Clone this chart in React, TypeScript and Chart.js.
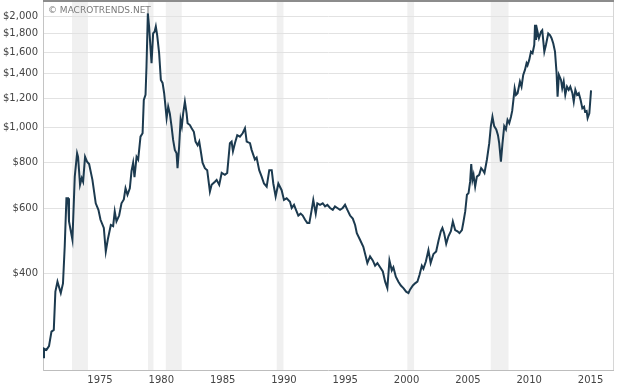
import React, { useEffect, useRef } from 'react';
import { Chart, registerables } from 'chart.js';

Chart.register(...registerables);

const years = [
  1971.39, 1971.47, 1971.67, 1971.88, 1972.08, 1972.27, 1972.4, 1972.57, 1972.84, 1973.02,
  1973.16, 1973.3, 1973.43, 1973.51, 1973.79, 1973.98, 1974.17, 1974.25, 1974.41, 1974.55,
  1974.66, 1974.82, 1974.98, 1975.15, 1975.42, 1975.69, 1975.91, 1976.08, 1976.35, 1976.51,
  1976.67, 1976.92, 1977.11, 1977.24, 1977.38, 1977.6, 1977.79, 1977.98, 1978.12, 1978.28,
  1978.47, 1978.61, 1978.74, 1978.85, 1979.02, 1979.15, 1979.34, 1979.51, 1979.61, 1979.75,
  1979.83, 1979.94, 1980.04, 1980.24, 1980.37, 1980.49, 1980.59, 1980.7, 1980.86, 1981.0,
  1981.14, 1981.27, 1981.47, 1981.6, 1981.73, 1981.87, 1982.0, 1982.14, 1982.28, 1982.36,
  1982.49, 1982.61, 1982.71, 1982.82, 1982.96, 1983.1, 1983.18, 1983.37, 1983.51, 1983.69,
  1983.83, 1984.0, 1984.13, 1984.27, 1984.4, 1984.59, 1984.78, 1985.0, 1985.14, 1985.41,
  1985.55, 1985.76, 1985.96, 1986.22, 1986.41, 1986.63, 1986.77, 1986.88, 1987.04, 1987.23,
  1987.45, 1987.67, 1987.86, 1988.0, 1988.27, 1988.4, 1988.67, 1988.81, 1989.02, 1989.22,
  1989.41, 1989.63, 1989.84, 1990.04, 1990.17, 1990.36, 1990.58, 1990.85, 1991.04, 1991.26,
  1991.53, 1991.67, 1991.86, 1992.02, 1992.21, 1992.4, 1992.57, 1992.76, 1992.94, 1993.11,
  1993.3, 1993.43, 1993.63, 1993.76, 1993.98, 1994.2, 1994.39, 1994.58, 1994.8, 1995.02,
  1995.2, 1995.39, 1995.61, 1995.83, 1996.02, 1996.21, 1996.43, 1996.65, 1996.84, 1996.98,
  1997.24, 1997.51, 1997.71, 1997.84, 1998.06, 1998.28, 1998.47, 1998.66, 1998.88, 1999.1,
  1999.29, 1999.47, 1999.64, 1999.83, 1999.96, 2000.16, 2000.37, 2000.57, 2000.78, 2001.0,
  2001.19, 2001.33, 2001.55, 2001.73, 2001.92, 2002.09, 2002.28, 2002.41, 2002.61, 2002.82,
  2003.0, 2003.23, 2003.45, 2003.64, 2003.83, 2003.96, 2004.1, 2004.27, 2004.45, 2004.65,
  2004.81, 2005.0, 2005.19, 2005.35, 2005.55, 2005.68, 2005.82, 2005.96, 2006.09, 2006.22,
  2006.31, 2006.41, 2006.5, 2006.63, 2006.77, 2006.96, 2007.12, 2007.26, 2007.39, 2007.59,
  2007.78, 2007.91, 2008.04, 2008.18, 2008.35, 2008.49, 2008.59, 2008.73, 2008.86, 2009.0,
  2009.14, 2009.27, 2009.41, 2009.55, 2009.65, 2009.75, 2009.85, 2009.96, 2010.09, 2010.28,
  2010.41, 2010.55, 2010.69, 2010.82, 2010.9, 2011.04, 2011.18, 2011.31, 2011.45, 2011.51,
  2011.59, 2011.69, 2011.83, 2012.0, 2012.1, 2012.27, 2012.4, 2012.59, 2012.73, 2012.86,
  2013.0, 2013.14, 2013.27, 2013.35, 2013.46, 2013.63, 2013.73, 2013.85, 2013.98, 2014.12,
  2014.26, 2014.39, 2014.56, 2014.67, 2014.8, 2014.94, 2015.08, 2015.23, 2015.37, 2015.51,
  2015.59, 2015.72, 2015.8, 2015.94, 2016.08,
];

const prices = [
  236, 249, 247, 253, 277, 280, 356, 379, 353, 375,
  472, 640, 640, 553, 493, 733, 849, 830, 696, 726,
  710, 830, 805, 793, 718, 620, 595, 559, 531, 458,
  493, 541, 537, 589, 553, 574, 620, 635, 681, 654,
  681, 760, 800, 730, 830, 816, 942, 962, 1186, 1224,
  1462, 2043, 1881, 1493, 1800, 1820, 1881, 1782, 1590, 1345,
  1320, 1237, 1058, 1137, 1090, 1006, 923, 867, 849, 773,
  885, 1047, 1006, 1090, 1173, 1090, 1025, 1013, 993, 971,
  913, 892, 913, 854, 800, 773, 763, 667, 696, 710,
  718, 696, 750, 741, 750, 904, 913, 860, 904, 951,
  942, 962, 993, 913, 904, 867, 816, 826, 763, 733,
  702, 688, 763, 763, 702, 647, 702, 673, 633, 640,
  626, 602, 614, 595, 574, 581, 574, 559, 548, 548,
  595, 633, 581, 620, 614, 620, 608, 614, 602, 595,
  608, 602, 595, 602, 614, 595, 574, 563, 541, 514,
  493, 472, 444, 426, 444, 433, 419, 426, 415, 404,
  379, 364, 433, 407, 415, 391, 379, 370, 364, 356,
  353, 361, 370, 375, 379, 395, 419, 411, 430, 462,
  426, 451, 458, 490, 520, 531, 514, 481, 504, 520,
  553, 524, 520, 514, 524, 553, 589, 654, 661, 710,
  793, 718, 741, 688, 733, 741, 773, 763, 750, 816,
  904, 1006, 1067, 1006, 986, 951, 904, 805, 904, 1006,
  986, 1047, 1025, 1067, 1107, 1186, 1276, 1224, 1237, 1331,
  1289, 1388, 1432, 1493, 1474, 1525, 1606, 1590, 1675, 1900,
  1728, 1837, 1747, 1820, 1837, 1606, 1675, 1800, 1782, 1747,
  1690, 1606, 1403, 1210, 1388, 1345, 1276, 1331, 1224, 1289,
  1263, 1289, 1237, 1173, 1263, 1224, 1237, 1186, 1125, 1137,
  1102, 1107, 1058, 1090, 1259,
];

const recessionStarts = [1973.75, 1979.95, 1981.4, 1990.45, 2001.1, 2007.9];
const recessionEnds = [1975.05, 1980.4, 1982.7, 1991.0, 2001.65, 2009.35];

const xTickYears = [1975, 1980, 1985, 1990, 1995, 2000, 2005, 2010, 2015];
const yTickValues = [400, 600, 800, 1000, 1200, 1400, 1600, 1800, 2000];

const xRange = [1971.39, 2017.87];
const yRange = [217.7, 2207];

const FONT = '"DejaVu Sans", Verdana, sans-serif';

function formatDollars(v: number): string {
  const s = Math.round(v).toString();
  return '$' + s.replace(/\B(?=(\d{3})+(?!\d))/g, ',');
}

export default function App() {
  const ref = useRef<HTMLCanvasElement | null>(null);

  useEffect(() => {
    const canvas = ref.current;
    if (!canvas) return;

    const bandsPlugin = {
      id: 'recessionBands',
      beforeDraw(chart: any) {
        const { ctx, chartArea: a, scales } = chart;
        const x = scales.x;
        ctx.save();
        ctx.fillStyle = '#f0f0f0';
        for (let i = 0; i < recessionStarts.length; i++) {
          const x0 = x.getPixelForValue(recessionStarts[i]);
          const x1 = x.getPixelForValue(recessionEnds[i]);
          ctx.fillRect(x0, a.top, x1 - x0, a.bottom - a.top);
        }
        ctx.restore();
      },
      beforeDatasetsDraw(chart: any) {
        const { ctx, chartArea: a } = chart;
        ctx.save();
        ctx.font = '9px ' + FONT;
        ctx.fillStyle = '#7a7a7a';
        ctx.textBaseline = 'middle';
        ctx.textAlign = 'left';
        ctx.fillText('\u00A9 MACROTRENDS.NET', a.left + 5, a.top + 10);
        ctx.restore();
      },
      afterDraw(chart: any) {
        const { ctx, chartArea: a } = chart;
        ctx.save();
        ctx.strokeStyle = '#d6d6d6';
        ctx.lineWidth = 1;
        ctx.beginPath();
        ctx.moveTo(a.right + 0.5, a.top);
        ctx.lineTo(a.right + 0.5, a.bottom);
        ctx.stroke();
        ctx.fillStyle = '#8c8c8c';
        ctx.fillRect(a.left, 0, a.right - a.left + 1, 2);
        ctx.restore();
      },
    };

    const chart = new Chart(canvas, {
      type: 'line',
      data: {
        datasets: [
          {
            data: years.map((yr, i) => ({ x: yr, y: prices[i] })),
            borderColor: '#1c3a4f',
            borderWidth: 2,
            pointRadius: 0,
            tension: 0,
            fill: false,
          },
        ],
      },
      options: {
        responsive: false,
        animation: false,
        events: [],
        layout: { padding: { top: 1, right: 5, left: 0, bottom: 0 } },
        plugins: {
          legend: { display: false },
          tooltip: { enabled: false },
        },
        scales: {
          x: {
            type: 'linear',
            min: xRange[0],
            max: xRange[1],
            afterBuildTicks: (scale: any) => {
              scale.ticks = xTickYears.map((v) => ({ value: v }));
            },
            afterFit: (scale: any) => {
              scale.height = 20;
              scale.paddingLeft = 0;
              scale.paddingRight = 0;
            },
            grid: { display: false, drawTicks: false },
            border: { display: true, color: '#bdbdbd', width: 1 },
            ticks: {
              autoSkip: false,
              maxRotation: 0,
              align: 'start',
              padding: 4,
              color: '#444',
              font: { family: FONT, size: 10 },
              callback: (v: any) => String(v),
            },
          },
          y: {
            type: 'logarithmic',
            min: yRange[0],
            max: yRange[1],
            afterBuildTicks: (scale: any) => {
              scale.ticks = yTickValues.map((v) => ({ value: v }));
            },
            afterFit: (scale: any) => {
              scale.width = 43;
              scale.paddingTop = 0;
              scale.paddingBottom = 0;
            },
            grid: { color: '#e2e2e2', lineWidth: 1, drawTicks: false },
            border: { display: true, color: '#c4c4c4', width: 1 },
            ticks: {
              autoSkip: false,
              padding: 5,
              color: '#444',
              font: { family: FONT, size: 10 },
              callback: (v: any) => formatDollars(Number(v)),
            },
          },
        },
      },
      plugins: [bandsPlugin],
    } as any);

    return () => {
      chart.destroy();
    };
  }, []);

  return (
    <div style={{ position: 'absolute', left: 0, top: 0, width: 618, height: 390, background: '#fff' }}>
      <canvas ref={ref} width={618} height={390} style={{ display: 'block' }} />
    </div>
  );
}
